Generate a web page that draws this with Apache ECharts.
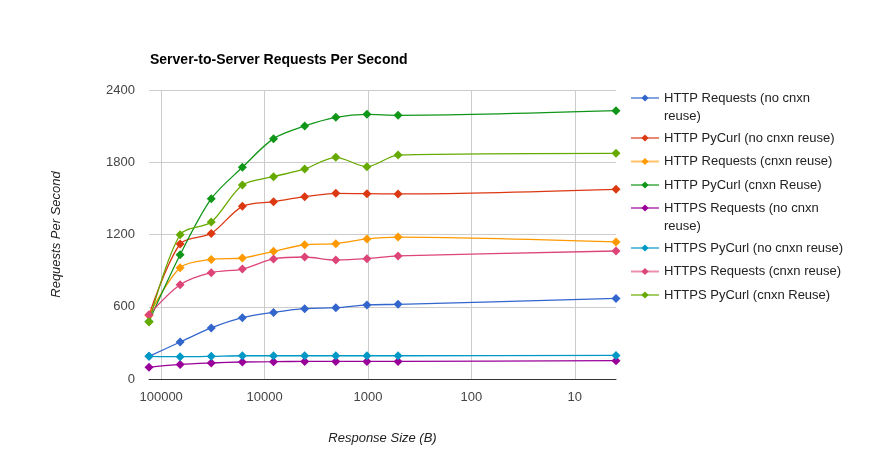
<!DOCTYPE html>
<html>
<head>
<meta charset="utf-8">
<script src="https://cdn.jsdelivr.net/npm/echarts@6/dist/echarts.min.js"></script>
<style>html,body{margin:0;padding:0;background:#fff}#c{width:874px;height:470px}</style>
</head>
<body>
<div id="c"></div>
<script>
var sizes = [131072, 65536, 32768, 16384, 8192, 4096, 2048, 1024, 512, 4];
var seriesNames = [
  'HTTP Requests (no cnxn reuse)',
  'HTTP PyCurl (no cnxn reuse)',
  'HTTP Requests (cnxn reuse)',
  'HTTP PyCurl (cnxn Reuse)',
  'HTTPS Requests (no cnxn reuse)',
  'HTTPS PyCurl (no cnxn reuse)',
  'HTTPS Requests (cnxn reuse)',
  'HTTPS PyCurl (cnxn Reuse)'
];
var httpRequestsNoReuse  = [188, 307, 424, 509, 553, 584, 592, 615, 620, 669];
var httpPycurlNoReuse    = [530, 1121, 1209, 1434, 1473, 1514, 1542, 1539, 1537, 1575];
var httpRequestsReuse    = [530, 924, 993, 1005, 1060, 1115, 1124, 1163, 1179, 1138];
var httpPycurlReuse      = [478, 1032, 1497, 1758, 1996, 2101, 2173, 2198, 2190, 2228];
var httpsRequestsNoReuse = [97, 121, 133, 141, 144, 146, 146, 146, 146, 152];
var httpsPycurlNoReuse   = [188, 185, 188, 193, 193, 193, 193, 193, 193, 196];
var httpsRequestsReuse   = [534, 783, 883, 913, 997, 1013, 988, 999, 1022, 1063];
var httpsPycurlReuse     = [473, 1198, 1304, 1611, 1680, 1744, 1841, 1763, 1860, 1874];
var yTicks = [0, 600, 1200, 1800, 2400];

var allValues = [httpRequestsNoReuse, httpPycurlNoReuse, httpRequestsReuse, httpPycurlReuse,
  httpsRequestsNoReuse, httpsPycurlNoReuse, httpsRequestsReuse, httpsPycurlReuse];
var colors = ['#3366cc', '#dc3912', '#ff9900', '#109618', '#990099', '#0099c6', '#dd4477', '#66aa00'];

var series = seriesNames.map(function (name, i) {
  return {
    name: name,
    type: 'line',
    smooth: 0.3,
    symbol: 'diamond',
    symbolSize: 9,
    showSymbol: true,
    lineStyle: { width: 1.3, color: colors[i] },
    itemStyle: { color: colors[i] },
    data: sizes.map(function (s, j) { return [s, allValues[i][j]]; }),
    z: 2
  };
});

function wrapName(name) {
  if (name.indexOf('Requests (no cnxn') >= 0) {
    var k = name.lastIndexOf(' ');
    return '{t|' + name.slice(0, k) + '}\n{t|' + name.slice(k + 1) + '}';
  }
  return '{t|' + name + '}';
}
function makeLegend(names, top, twoLine) {
  return {
    orient: 'vertical',
    left: 630, top: top,
    padding: 0,
    itemWidth: 28, itemHeight: 9,
    itemGap: 5.5,
    data: names,
    formatter: wrapName,
    lineStyle: { width: 2, opacity: 0.6 },
    textStyle: {
      fontFamily: 'Arial, Liberation Sans', fontSize: 13, color: '#222', lineHeight: 18,
      padding: twoLine ? [18, 0, 0, 0] : 0,
      rich: {
        t: { fontFamily: 'Arial, Liberation Sans', fontSize: 13, color: '#222', lineHeight: 18 }
      }
    }
  };
}

var chart = echarts.init(document.getElementById('c'), null, { renderer: 'canvas' });
chart.setOption({
  animation: false,
  color: colors,
  title: {
    text: 'Server-to-Server Requests Per Second',
    left: 145, top: 48,
    textStyle: { fontFamily: 'Arial, Liberation Sans', fontSize: 14, fontWeight: 'bold', color: '#000' }
  },
  legend: [
    makeLegend([seriesNames[0]], 71, true),
    makeLegend(seriesNames.slice(1, 4), 129, false),
    makeLegend([seriesNames[4]], 181, true),
    makeLegend(seriesNames.slice(5, 8), 239, false)
  ],
  grid: { left: 149, right: 258, top: 90, bottom: 91, containLabel: false },
  xAxis: {
    type: 'log',
    logBase: 10,
    inverse: true,
    min: 4, max: 131072,
    name: 'Response Size (B)',
    nameLocation: 'middle',
    nameGap: 53,
    nameTextStyle: { fontFamily: 'Arial, Liberation Sans', fontSize: 13, fontStyle: 'italic', color: '#222' },
    axisLine: { show: true, lineStyle: { color: '#333', width: 1 } },
    axisTick: { show: false },
    axisLabel: {
      fontFamily: 'Arial, Liberation Sans', fontSize: 13, color: '#444', margin: 12,
      showMinLabel: false, showMaxLabel: false,
      formatter: function (v) { return String(Math.round(v)); }
    },
    splitLine: { show: true, showMinLine: false, showMaxLine: false, lineStyle: { color: '#cccccc', width: 1 } }
  },
  yAxis: {
    type: 'value',
    min: yTicks[0], max: yTicks[yTicks.length - 1], interval: 600,
    name: 'Requests Per Second',
    nameLocation: 'middle',
    nameGap: 86,
    nameRotate: 90,
    nameTextStyle: { fontFamily: 'Arial, Liberation Sans', fontSize: 13, fontStyle: 'italic', color: '#222' },
    axisLine: { show: false },
    axisTick: { show: false },
    axisLabel: {
      fontFamily: 'Arial, Liberation Sans', fontSize: 13, color: '#444', margin: 14,
      formatter: function (v) { return String(v); }
    },
    splitLine: { show: true, lineStyle: { color: '#cccccc', width: 1 } }
  },
  series: series
});
</script>
</body>
</html>
